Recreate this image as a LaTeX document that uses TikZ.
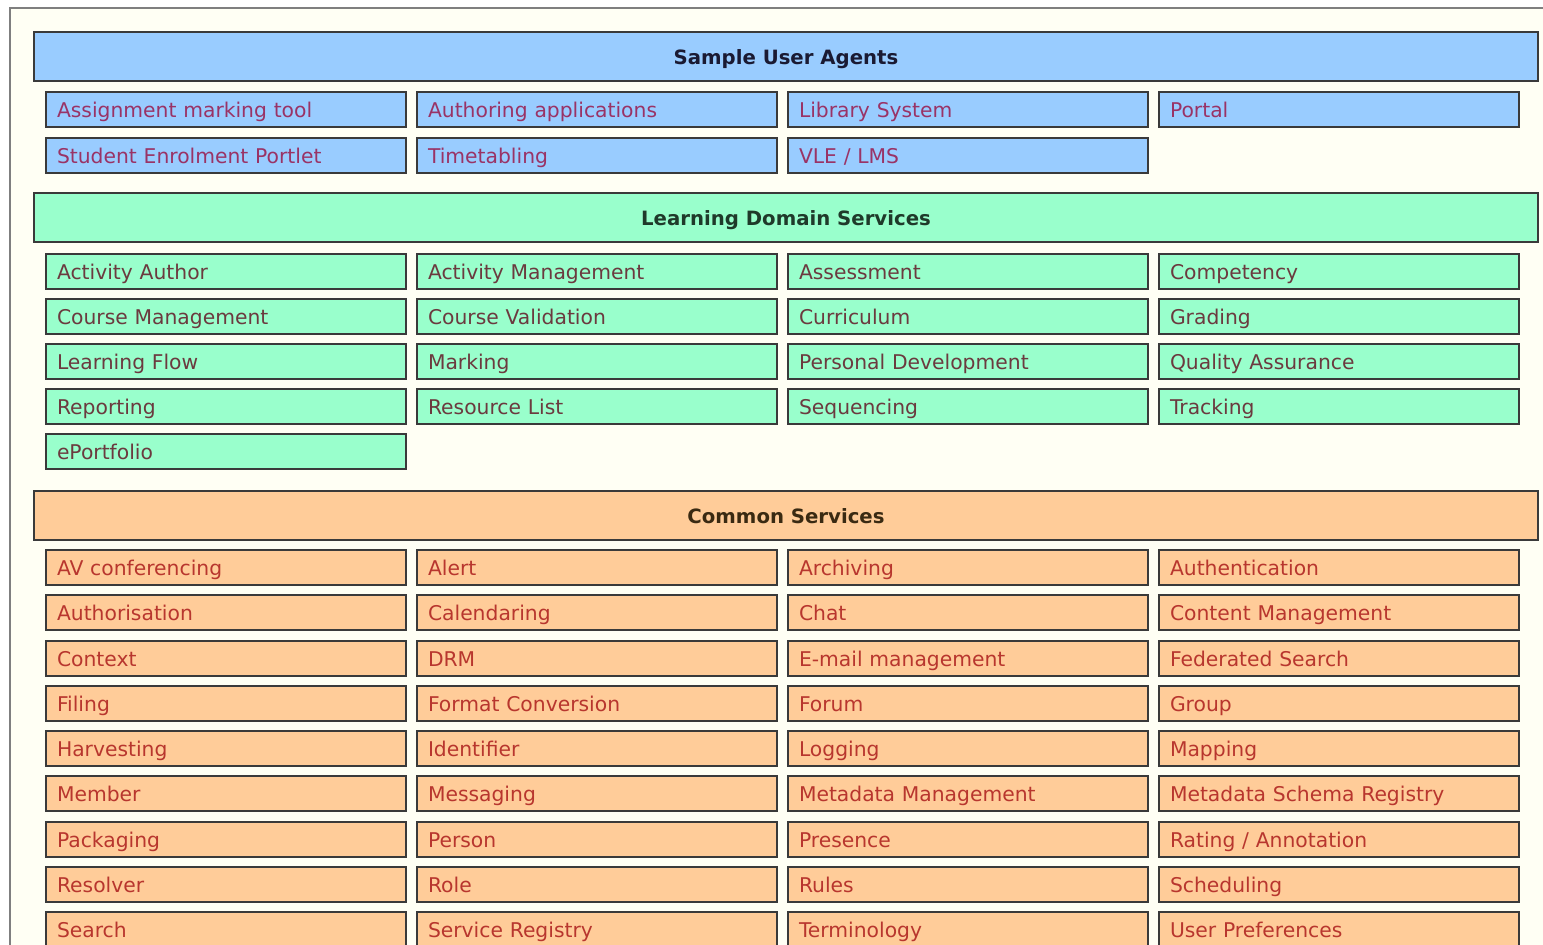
\documentclass[tikz,border=0pt]{standalone}
\usepackage{fontspec}
\setmainfont{DejaVu Sans}
\definecolor{bgc}{HTML}{FFFFF4}
\definecolor{framec}{HTML}{7F7F7F}
\definecolor{edgec}{HTML}{3A3A3A}
\definecolor{bluef}{HTML}{99CCFF}
\definecolor{greenf}{HTML}{99FFCC}
\definecolor{orangef}{HTML}{FFCC99}
\definecolor{bluet}{HTML}{993366}
\definecolor{greent}{HTML}{6B3A3F}
\definecolor{oranget}{HTML}{B8362E}
\definecolor{blueh}{HTML}{1A1A33}
\definecolor{greenh}{HTML}{1F3A2A}
\definecolor{orangeh}{HTML}{3A2A12}
\tikzset{
  cellbox/.style={draw=edgec, line width=2pt, anchor=north west, rectangle,
    minimum height=35pt, text width=338pt, inner xsep=11pt, inner ysep=0pt,
    text height=18pt, text depth=2pt,
    align=left, font=\fontsize{20.3}{22}\selectfont},
  ubox/.style={cellbox, fill=bluef, text=bluet},
  gbox/.style={cellbox, fill=greenf, text=greent},
  obox/.style={cellbox, fill=orangef, text=oranget},
  hdrbox/.style={draw=edgec, line width=2pt, anchor=north west, rectangle,
    minimum height=49pt, minimum width=1504pt, inner sep=0pt,
    text height=17pt, text depth=2pt,
    font=\fontsize{19.7}{22}\selectfont\bfseries},
}
\begin{document}
\begin{tikzpicture}[x=1pt,y=1pt]
\useasboundingbox (0,0) rectangle (1543,-945);
\clip (0,0) rectangle (1543,-945);
\fill[white] (0,0) rectangle (1543,-945);
\fill[bgc] (10,-8) rectangle (1543,-950);
\draw[framec, line width=2.5pt] (1543,-8) -- (10,-8) -- (10,-950);

\node[hdrbox, fill=bluef, text=blueh] (h1) at (33,-31) {Sample User Agents};
\foreach \t [count=\i from 0] in {Assignment marking tool, Authoring applications, Library System, Portal,
  Student Enrolment Portlet, Timetabling, VLE / LMS} {
  \pgfmathtruncatemacro\c{mod(\i,4)}
  \pgfmathtruncatemacro\r{div(\i,4)}
  \node[ubox] (u\i) at ({45+371*\c},{-91-46*\r}) {\t};
}

\node[hdrbox, fill=greenf, text=greenh] (h2) at (33,-192) {Learning Domain Services};
\foreach \t [count=\i from 0] in {Activity Author, Activity Management, Assessment, Competency,
  Course Management, Course Validation, Curriculum, Grading,
  Learning Flow, Marking, Personal Development, Quality Assurance,
  Reporting, Resource List, Sequencing, Tracking,
  ePortfolio} {
  \pgfmathtruncatemacro\c{mod(\i,4)}
  \pgfmathtruncatemacro\r{div(\i,4)}
  \node[gbox] (g\i) at ({45+371*\c},{-253-45*\r}) {\t};
}

\node[hdrbox, fill=orangef, text=orangeh] (h3) at (33,-490) {Common Services};
\foreach \t [count=\i from 0] in {AV conferencing, Alert, Archiving, Authentication,
  Authorisation, Calendaring, Chat, Content Management,
  Context, DRM, E-mail management, Federated Search,
  Filing, Format Conversion, Forum, Group,
  Harvesting, Identifier, Logging, Mapping,
  Member, Messaging, Metadata Management, Metadata Schema Registry,
  Packaging, Person, Presence, Rating / Annotation,
  Resolver, Role, Rules, Scheduling,
  Search, Service Registry, Terminology, User Preferences} {
  \pgfmathtruncatemacro\c{mod(\i,4)}
  \pgfmathtruncatemacro\r{div(\i,4)}
  \node[obox] (o\i) at ({45+371*\c},{-549-45.25*\r}) {\t};
}
\end{tikzpicture}
\end{document}
